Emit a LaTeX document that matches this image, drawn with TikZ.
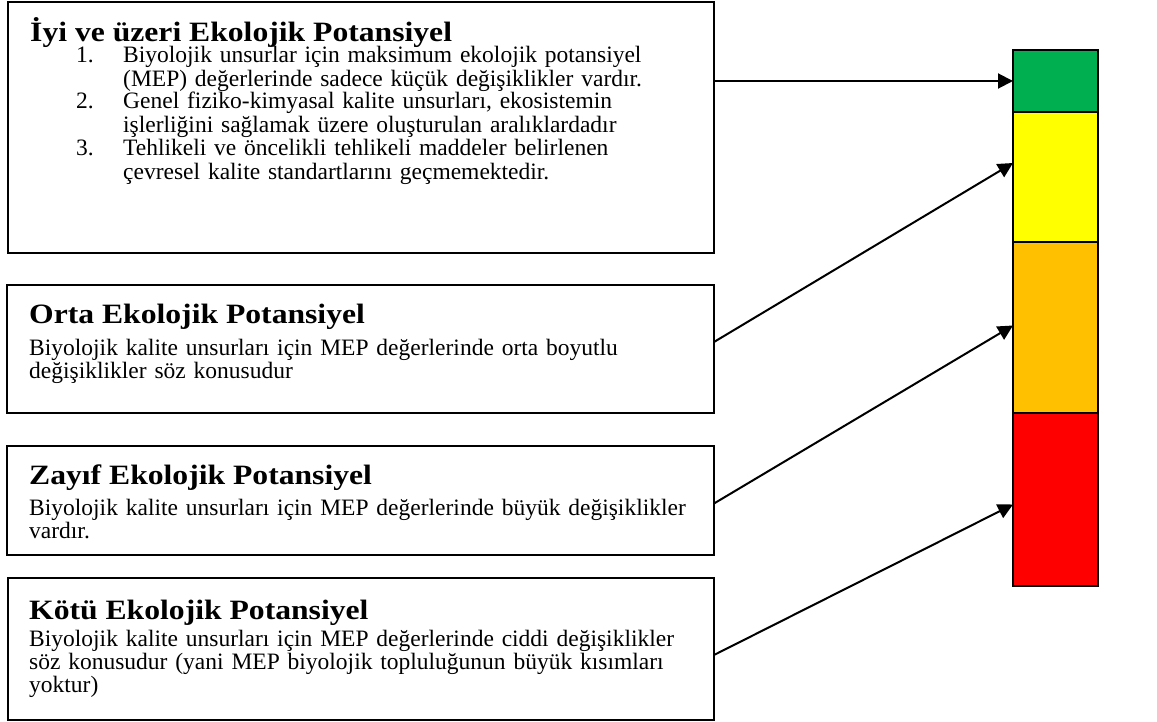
\documentclass[tikz,border=0pt]{standalone}
\usepackage{fontspec}
\setmainfont{Liberation Serif}
\newfontfamily\headfont[FakeStretch=1.13]{Liberation Serif}
\usetikzlibrary{arrows.meta,positioning,calc}
\definecolor{potgreen}{RGB}{0,176,80}
\definecolor{potyellow}{RGB}{255,255,0}
\definecolor{potorange}{RGB}{255,192,0}
\definecolor{potred}{RGB}{255,0,0}
\tikzset{
    panel/.style={rectangle, draw, line width=1.6pt, anchor=north west, inner sep=0pt, outer sep=0pt},
    heading/.style={anchor=base west, inner sep=0pt, font=\headfont\fontsize{28}{30}\selectfont\bfseries},
    bodytext/.style={anchor=base west, inner sep=0pt, align=left, text width=690pt, font=\fontsize{23.5}{23.3}\selectfont},
    band/.style={rectangle, draw, line width=1.6pt, inner sep=0pt, outer sep=0pt, minimum width=85pt},
    connection/.style={line width=2pt, -{Triangle[length=15pt,width=15pt]}}
}

\begin{document}
\begin{tikzpicture}[x=1pt, y=-1pt]
    \useasboundingbox (0,0) rectangle (1157,722);

    % Four description panels
    \node[panel, minimum width=706pt, minimum height=251pt] (iyi) at (8,2) {};
    \node[panel, minimum width=707pt, minimum height=128pt] (orta) at (7,285) {};
    \node[panel, minimum width=707pt, minimum height=109pt] (zayif) at (7,446) {};
    \node[panel, minimum width=706pt, minimum height=142pt] (kotu) at (8,578) {};

    % Panel texts
    \node[heading] (iyibaslik) at (30,42) {İyi ve üzeri Ekolojik Potansiyel};
    \node[bodytext, text width=40pt] (madde1) at (76,63) {1.};
    \node[bodytext, text width=580pt] (madde1text) at (123,63) {Biyolojik unsurlar için maksimum ekolojik potansiyel\\(MEP) değerlerinde sadece küçük değişiklikler vardır.};
    \node[bodytext, text width=40pt] (madde2) at (76,109) {2.};
    \node[bodytext, text width=580pt] (madde2text) at (123,109) {Genel fiziko-kimyasal kalite unsurları, ekosistemin\\işlerliğini sağlamak üzere oluşturulan aralıklardadır};
    \node[bodytext, text width=40pt] (madde3) at (76,156) {3.};
    \node[bodytext, text width=580pt] (madde3text) at (123,156) {Tehlikeli ve öncelikli tehlikeli maddeler belirlenen\\çevresel kalite standartlarını geçmemektedir.};

    \node[heading] (ortabaslik) at (29,323) {Orta Ekolojik Potansiyel};
    \node[bodytext] (ortatext) at (29,355) {Biyolojik kalite unsurları için MEP değerlerinde orta boyutlu\\değişiklikler söz konusudur};

    \node[heading] (zayifbaslik) at (29,484) {Zayıf Ekolojik Potansiyel};
    \node[bodytext] (zayiftext) at (29,515) {Biyolojik kalite unsurları için MEP değerlerinde büyük değişiklikler\\vardır.};

    \node[heading] (kotubaslik) at (29,619) {Kötü Ekolojik Potansiyel};
    \node[bodytext] (kotutext) at (29,646) {Biyolojik kalite unsurları için MEP değerlerinde ciddi değişiklikler\\söz konusudur (yani MEP biyolojik topluluğunun büyük kısımları\\yoktur)};

    % Colour scale
    \node[band, fill=potgreen, minimum height=62pt, anchor=north west] (yesil) at (1013,50) {};
    \node[band, fill=potyellow, minimum height=130pt, below=0pt of yesil] (sari) {};
    \node[band, fill=potorange, minimum height=171pt, below=0pt of sari] (turuncu) {};
    \node[band, fill=potred, minimum height=173pt, below=0pt of turuncu] (kirmizi) {};

    % Arrows to the scale
    \draw[connection] (iyi.east |- yesil.west) -- (yesil.west);
    \draw[connection] ([yshift=7pt]orta.east) -- ([yshift=14pt]sari.west);
    \draw[connection] ([yshift=-3pt]zayif.east) -- ([yshift=2pt]turuncu.west);
    \draw[connection] ([yshift=-6pt]kotu.east) -- ([yshift=-5pt]kirmizi.west);
\end{tikzpicture}
\end{document}
